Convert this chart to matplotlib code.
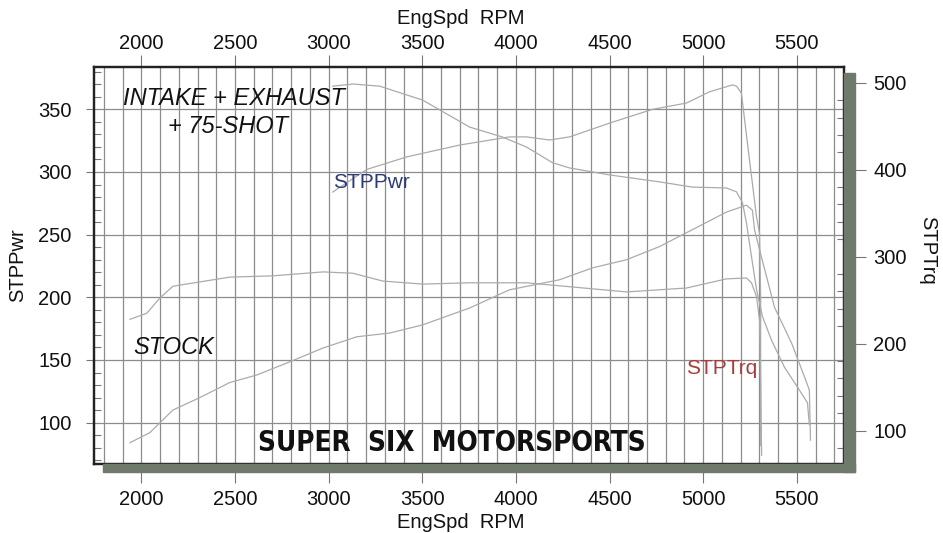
import matplotlib
matplotlib.use('Agg')
import matplotlib.pyplot as plt
from matplotlib.ticker import MultipleLocator
from matplotlib.patches import Rectangle

plt.rcParams['font.family'] = ['Liberation Sans', 'DejaVu Sans']

# modified run (intake + exhaust + 75 shot)
mod_rpm = [3022, 3203, 3416, 3700, 3966, 4057, 4180, 4287, 4500, 4730, 4911, 5034,
           5157, 5178, 5204, 5247, 5285, 5301, 5307, 5307, 5312]
mod_pwr = [284, 302, 312, 321.5, 328, 328, 325.5, 328, 339, 350, 355, 364,
           369.5, 368.5, 363, 310, 264, 251, 198, 134, 74]

mod_trq_rpm = [3022, 3129, 3273, 3502, 3753, 3929, 4057, 4196, 4287, 4500, 4767, 4943,
               5124, 5178, 5210, 5231, 5258, 5285, 5317, 5365, 5434, 5504, 5557, 5567]
mod_trq = [496, 498.5, 496, 480, 449, 437.5, 426, 408, 402, 394, 386, 380,
           379, 374.5, 362, 339, 300, 262, 231, 204, 173, 150, 132, 107]

# stock run
stk_rpm = [1939, 2045, 2168, 2312, 2472, 2616, 2792, 2969, 3150, 3326, 3502, 3753,
           3966, 4233, 4409, 4591, 4767, 4943, 5124, 5231, 5263, 5274, 5301, 5381,
           5472, 5541, 5567, 5573]
stk_pwr = [84, 92, 110, 120, 132, 138, 148.5, 159.5, 168.5, 171.5, 178, 191.5,
           206, 214, 223.5, 230, 240.5, 254, 268, 273.5, 269.5, 254, 238, 192,
           163.5, 136.5, 126, 86]

stk_trq_rpm = [1939, 2029, 2099, 2168, 2312, 2472, 2702, 2969, 3129, 3289, 3502, 3753,
               4057, 4591, 4911, 5124, 5231, 5258, 5285, 5301, 5307, 5307]
stk_trq = [228, 235, 252.5, 266, 271, 276.5, 278, 282.5, 281, 272, 268.5, 270,
           270, 259.5, 264, 274.5, 275.5, 270, 254, 227, 158, 83]

rpm_ticks = [2000, 2500, 3000, 3500, 4000, 4500, 5000, 5500]
pwr_ticks = [100, 150, 200, 250, 300, 350]
trq_ticks = [100, 200, 300, 400, 500]

W, H = 943, 533
fig = plt.figure(figsize=(W / 100, H / 100), dpi=100)
fig.patch.set_facecolor('white')

L, R, T, B = 94, 844, 66.7, 464
ax = fig.add_axes([L / W, 1 - B / H, (R - L) / W, (B - T) / H])
ax.set_zorder(2)

# drop shadow of the plot frame
shade = '#707a6c'
fig.patches.append(Rectangle((R / W, 1 - 472 / H), 11 / W, (472 - 73) / H,
                             transform=fig.transFigure, color=shade, zorder=5))
fig.patches.append(Rectangle((103 / W, 1 - 472 / H), (R + 11 - 103) / W, 8 / H,
                             transform=fig.transFigure, color=shade, zorder=5))

line_c = '#ababab'
ax.plot(mod_rpm, mod_pwr, color=line_c, lw=0.9, zorder=3)
ax.plot(stk_rpm, stk_pwr, color=line_c, lw=0.9, zorder=3)

ax2 = ax.twinx()
ax2.plot(mod_trq_rpm, mod_trq, color=line_c, lw=0.9)
ax2.plot(stk_trq_rpm, stk_trq, color=line_c, lw=0.9)

ax.set_xlim(1747, 5752)
ax.set_ylim(67, 384)
ax2.set_ylim(61.7, 518.4)

ax.set_xticks(rpm_ticks)
ax.xaxis.set_minor_locator(MultipleLocator(100))
ax.set_yticks(pwr_ticks)
ax.yaxis.set_minor_locator(MultipleLocator(10))
ax2.set_yticks(trq_ticks)
ax2.yaxis.set_minor_locator(MultipleLocator(20))

ax.grid(True, which='both', axis='x', color='#8c8c8c', lw=0.9)
ax.grid(True, which='major', axis='y', color='#8c8c8c', lw=0.9)
ax.set_axisbelow(True)

for a in (ax, ax2):
    for s in a.spines.values():
        s.set_color('#222222')
        s.set_linewidth(1.6)

ax.tick_params(axis='x', which='major', direction='out', length=14, width=0.8,
               color='#777777', labelsize=14.5, pad=5, labelcolor='#111111')
ax.tick_params(axis='x', which='minor', length=0)
ax.tick_params(axis='y', which='major', direction='out', length=6, width=0.8,
               color='#777777', labelsize=14.5, pad=10, labelcolor='#111111')
ax.tick_params(axis='y', which='minor', direction='in', length=5, width=0.8,
               color='#777777')
ax2.tick_params(axis='y', which='major', direction='out', length=16, width=0.8,
                color='#777777', labelsize=14.5, pad=5, labelcolor='#111111')
ax2.tick_params(axis='y', which='minor', direction='in', length=5, width=0.8,
                color='#777777')

top = ax.secondary_xaxis('top')
top.set_xticks(rpm_ticks)
top.tick_params(axis='x', direction='out', length=9, width=0.8, color='#777777',
                labelsize=14.5, pad=1, labelcolor='#111111')
top.spines['top'].set_visible(False)

# axis titles
fig.text(461 / W, 1 - 18 / H, 'EngSpd  RPM', ha='center', va='center', fontsize=14.5,
         color='#111111')
fig.text(461 / W, 1 - 522 / H, 'EngSpd  RPM', ha='center', va='center', fontsize=14.5,
         color='#111111')
fig.text(18 / W, 1 - 265 / H, 'STPPwr', ha='center', va='center', rotation=90,
         fontsize=14.5, color='#111111')
fig.text(928 / W, 1 - 250 / H, 'STPTrq', ha='center', va='center', rotation=270,
         fontsize=14.5, color='#111111')

# labels on the chart
ax.text(1901, 359, 'INTAKE + EXHAUST', style='italic', fontsize=17,
        ha='left', va='center', color='#111111', zorder=4)
ax.text(2141, 336, '+ 75-SHOT', style='italic', fontsize=17,
        ha='left', va='center', color='#111111', zorder=4)
ax.text(1955, 159.6, 'STOCK', style='italic', fontsize=17,
        ha='left', va='center', color='#111111', zorder=4)
ax.text(3022, 292, 'STPPwr', fontsize=15, ha='left', va='center',
        color='#2c3a78', zorder=4)
ax.text(4906, 143, 'STPTrq', fontsize=15, ha='left', va='center',
        color='#a83c3c', zorder=4)
ax.text(3660, 83.5, 'SUPER  SIX  MOTORSPORTS', family='DejaVu Sans',
        fontstretch='condensed', fontweight='heavy', fontsize=20,
        ha='center', va='center', color='#111111', zorder=4)

fig.savefig('out.png', dpi=100)
